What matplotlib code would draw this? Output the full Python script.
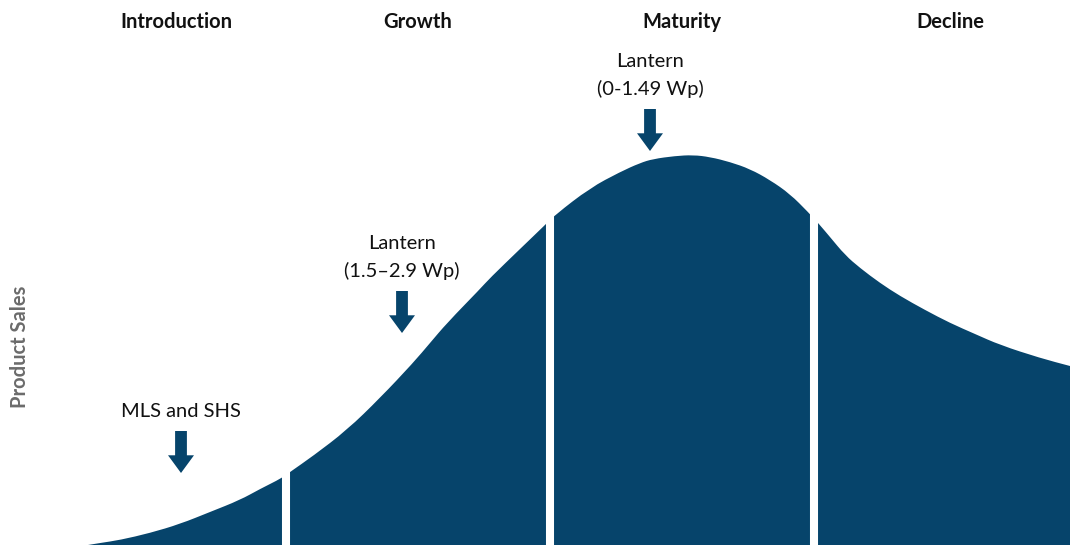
import matplotlib.pyplot as plt
from matplotlib.path import Path
from matplotlib.patches import PathPatch

# product life cycle curve: position along the cycle vs. sales level
cycle_x = [88, 100, 120, 150, 180, 210, 240, 260, 282, 290, 313, 347, 380, 413,
           430, 447, 480, 490, 520, 545, 555, 590, 620, 640, 653, 675, 693, 710,
           730, 750, 770, 790, 808, 819, 830, 845, 860, 880, 900, 925, 950, 975,
           1000, 1040, 1070]
sales = [0, 2, 5, 12, 21, 33, 45, 56, 67, 73, 89, 115, 147, 182,
         202, 222, 256, 267, 296, 320, 330, 357, 373, 382, 386, 389, 390, 388,
         383, 376, 365, 351, 333, 321, 308, 290, 277, 262, 249, 235, 222, 211,
         200, 187, 179]

stage_names = ["Introduction", "Growth", "Maturity", "Decline"]
stage_centers = [176, 418, 682, 950]
stage_breaks = [286, 550, 814]

products = ["MLS and SHS", "Lantern\n(1.5\u20132.9 Wp)", "Lantern\n(0-1.49 Wp)"]
product_x = [181, 402, 650]
product_tip = [72, 212, 394]

blue = "#06446B"

fig = plt.figure(figsize=(10.7, 5.45), dpi=100)
ax = fig.add_axes([0, 0, 1, 1])
ax.set_xlim(0, 1070)
ax.set_ylim(0, 545)
ax.axis("off")

# smooth the outline with quadratic segments between the sample points
pts = list(zip(cycle_x, sales))
verts = [(cycle_x[0], 0), pts[0]]
codes = [Path.MOVETO, Path.LINETO]
for i in range(1, len(pts) - 1):
    mid = ((pts[i][0] + pts[i + 1][0]) / 2, (pts[i][1] + pts[i + 1][1]) / 2)
    verts += [pts[i], mid]
    codes += [Path.CURVE3, Path.CURVE3]
verts += [pts[-1], (cycle_x[-1], 0), (cycle_x[0], 0)]
codes += [Path.LINETO, Path.LINETO, Path.CLOSEPOLY]
ax.add_patch(PathPatch(Path(verts, codes), facecolor=blue, lw=0))

for b in stage_breaks:
    ax.axvline(b, color="white", lw=5.8)

for name, cx in zip(stage_names, stage_centers):
    ax.text(cx, 523, name, ha="center", va="center", fontsize=14.5,
            fontweight="bold", family="Lato", color="#111111")

for label, px, tip in zip(products, product_x, product_tip):
    ax.annotate("", xy=(px, tip), xytext=(px, tip + 42),
                arrowprops=dict(arrowstyle="simple,head_width=1.1,head_length=0.75,tail_width=0.5",
                                color=blue, lw=0, mutation_scale=17, shrinkA=0, shrinkB=0))
    ax.text(px, tip + 53, label, ha="center", va="bottom", fontsize=14.5,
            family="Lato", color="#111111", linespacing=1.65)

ax.text(20, 198, "Product Sales", rotation=90, ha="center", va="center",
        fontsize=14.5, fontweight="bold", family="Lato", color="#6b6b6b")

fig.savefig("out.png", dpi=100)
